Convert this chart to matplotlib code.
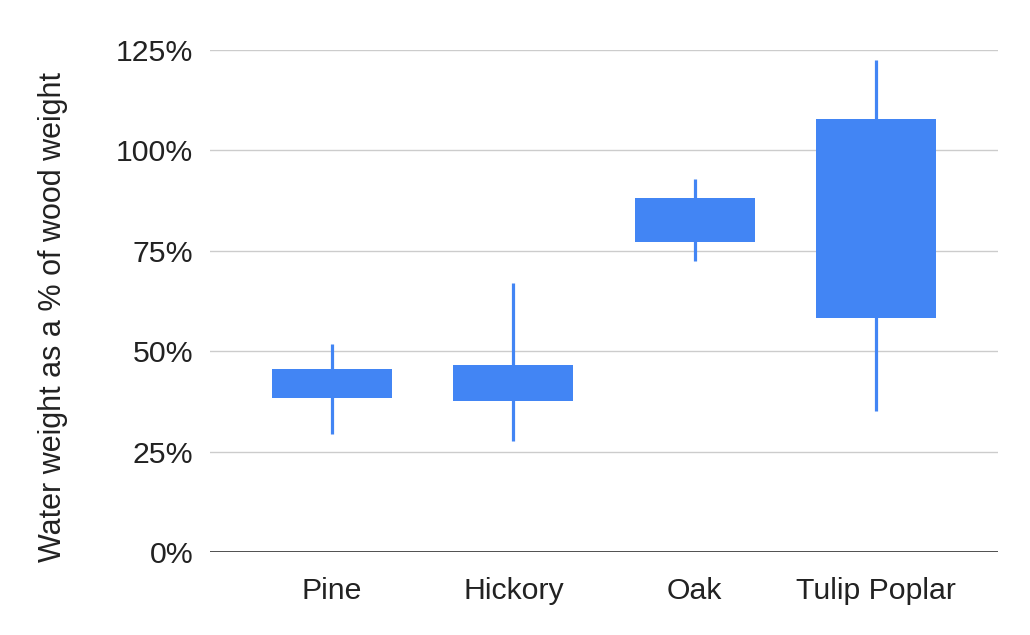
import matplotlib.pyplot as plt
from matplotlib.ticker import FuncFormatter

# candlestick-style ranges, percent of wood weight
species = ['Pine', 'Hickory', 'Oak', 'Tulip Poplar']
low = [29.4, 27.6, 72.5, 35.1]
box_low = [38.3, 37.6, 77.2, 58.3]
box_high = [45.6, 46.6, 88.1, 107.8]
high = [51.8, 67.0, 92.9, 122.5]
yticks = [0, 25, 50, 75, 100, 125]

plt.rcParams['font.family'] = ['Liberation Sans', 'DejaVu Sans']

fig = plt.figure(figsize=(10.3, 6.35), dpi=100)
ax = fig.add_axes([210 / 1030, 1 - 552 / 635, 788 / 1030, 502 / 635])

blue = '#4285F4'
xs = range(len(species))
ax.vlines(xs, low, high, color=blue, linewidth=2.3, zorder=3)
ax.bar(xs, [h - l for h, l in zip(box_high, box_low)], bottom=box_low,
       width=0.662, color=blue, zorder=4)

ax.set_xlim(-0.673, 3.673)
ax.set_ylim(0, 125)
ax.set_yticks(yticks)
ax.yaxis.set_major_formatter(FuncFormatter(lambda v, p: f'{v:.0f}%'))
ax.set_xticks(list(xs))
ax.set_xticklabels(species)

ax.grid(axis='y', color='#cccccc', linewidth=1, zorder=0)
ax.axhline(0, color='#333333', linewidth=1.2, zorder=5)
for s in ax.spines.values():
    s.set_visible(False)

ax.tick_params(axis='both', length=0, labelsize=21.8, colors='#222222')
ax.tick_params(axis='y', pad=12)
ax.tick_params(axis='x', pad=18)
ax.set_ylabel('Water weight as a % of wood weight', fontsize=22,
              color='#222222')
ax.yaxis.set_label_coords(-0.180, 0.468)

fig.savefig('out.png', dpi=100)
